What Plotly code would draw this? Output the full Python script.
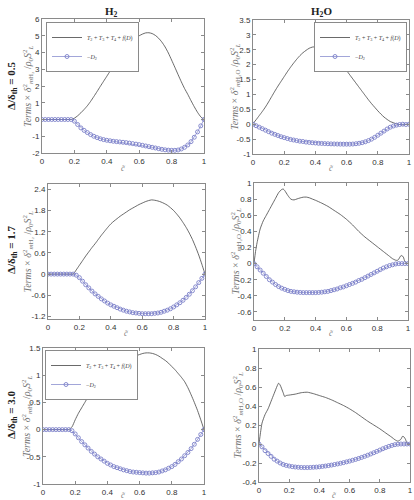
import plotly.graph_objects as go

# ---------------- data ----------------
c_markers = [0.00, 0.02, 0.04, 0.06, 0.08, 0.10, 0.12, 0.14, 0.16, 0.18,
             0.20, 0.22, 0.24, 0.26, 0.28, 0.30, 0.32, 0.34, 0.36, 0.38,
             0.40, 0.42, 0.44, 0.46, 0.48, 0.50, 0.52, 0.54, 0.56, 0.58,
             0.60, 0.62, 0.64, 0.66, 0.68, 0.70, 0.72, 0.74, 0.76, 0.78,
             0.80, 0.82, 0.84, 0.86, 0.88, 0.90, 0.92, 0.94, 0.96, 0.98, 1.00]

# H2, Delta/delta_th = 0.5
h2_05_terms = [0, 0, 0, 0, 0, 0, 0, 0, 0, 0,
               0.08, 0.22, 0.40, 0.60, 0.82, 1.08, 1.37, 1.67, 1.98, 2.28,
               2.58, 2.88, 3.17, 3.46, 3.74, 4.00, 4.25, 4.48, 4.68, 4.86,
               5.00, 5.10, 5.17, 5.18, 5.13, 5.02, 4.85, 4.62, 4.33, 3.97,
               3.55, 3.12, 2.68, 2.25, 1.85, 1.50, 1.12, 0.76, 0.43, 0.16, 0.0]
h2_05_d2 = [0, 0, 0, 0, 0, 0, 0, 0, 0, 0,
            -0.10, -0.30, -0.50, -0.65, -0.78, -0.90, -1.00, -1.08, -1.15, -1.20,
            -1.24, -1.27, -1.30, -1.32, -1.34, -1.36, -1.38, -1.41, -1.44, -1.47,
            -1.50, -1.54, -1.58, -1.62, -1.66, -1.70, -1.74, -1.78, -1.81, -1.83,
            -1.84, -1.84, -1.82, -1.76, -1.66, -1.52, -1.32, -1.06, -0.74, -0.38, 0.0]

# H2O, Delta/delta_th = 0.5
h2o_05_terms = [0.02, 0.15, 0.29, 0.43, 0.58, 0.75, 0.93, 1.11, 1.28, 1.44,
                1.60, 1.76, 1.91, 2.05, 2.18, 2.30, 2.40, 2.48, 2.55, 2.59,
                2.60, 2.59, 2.56, 2.51, 2.45, 2.38, 2.28, 2.18, 2.06, 1.93,
                1.80, 1.66, 1.52, 1.38, 1.24, 1.10, 0.96, 0.82, 0.69, 0.57,
                0.45, 0.34, 0.24, 0.16, 0.09, 0.05, 0.01, -0.01, -0.02, -0.01, 0.0]
h2o_05_d2 = [0.0, -0.05, -0.10, -0.15, -0.20, -0.25, -0.30, -0.34, -0.38, -0.42,
             -0.45, -0.48, -0.51, -0.53, -0.55, -0.57, -0.58, -0.60, -0.61, -0.62,
             -0.63, -0.64, -0.645, -0.65, -0.655, -0.66, -0.663, -0.666, -0.668, -0.67,
             -0.67, -0.67, -0.665, -0.655, -0.64, -0.62, -0.59, -0.55, -0.50, -0.44,
             -0.37, -0.30, -0.23, -0.16, -0.10, -0.06, -0.03, -0.01, 0.0, -0.01, 0.0]

# H2, Delta/delta_th = 1.7
h2_17_terms = [0, 0, 0, 0, 0, 0, 0, 0, 0, 0.12,
               0.25, 0.38, 0.51, 0.63, 0.75, 0.86, 0.98, 1.10, 1.21, 1.32,
               1.42, 1.50, 1.57, 1.64, 1.70, 1.76, 1.82, 1.87, 1.92, 1.97,
               2.01, 2.05, 2.08, 2.10, 2.09, 2.07, 2.04, 2.00, 1.95, 1.88,
               1.80, 1.70, 1.59, 1.46, 1.32, 1.16, 0.98, 0.77, 0.54, 0.28, 0.0]
h2_17_d2 = [0, 0, 0, 0, 0, 0, 0, 0, 0, -0.03,
            -0.10, -0.20, -0.30, -0.39, -0.48, -0.56, -0.63, -0.70, -0.76, -0.82,
            -0.87, -0.91, -0.95, -0.99, -1.02, -1.05, -1.07, -1.09, -1.10, -1.11,
            -1.12, -1.12, -1.12, -1.12, -1.11, -1.10, -1.08, -1.05, -1.02, -0.98,
            -0.93, -0.87, -0.81, -0.74, -0.66, -0.57, -0.47, -0.36, -0.24, -0.12, 0.0]

# H2O, Delta/delta_th = 1.7 (line drawn on its own finer set of points)
c_h2o_17_line = [0.00, 0.01, 0.02, 0.04, 0.06, 0.08, 0.10, 0.12, 0.14, 0.16,
                 0.18, 0.19, 0.20, 0.22, 0.24, 0.26, 0.28, 0.30, 0.32, 0.34,
                 0.36, 0.38, 0.40, 0.44, 0.48, 0.52, 0.56, 0.60, 0.64, 0.68,
                 0.72, 0.76, 0.80, 0.84, 0.88, 0.90, 0.92, 0.93, 0.94, 0.95,
                 0.96, 0.97, 0.98, 1.00]
h2o_17_terms = [0.0, 0.15, 0.26, 0.43, 0.53, 0.60, 0.67, 0.74, 0.81, 0.88,
                0.92, 0.925, 0.905, 0.845, 0.798, 0.79, 0.803, 0.815, 0.824, 0.825,
                0.816, 0.80, 0.785, 0.75, 0.71, 0.66, 0.61, 0.55, 0.48, 0.40,
                0.33, 0.27, 0.21, 0.15, 0.09, 0.06, 0.042, 0.04, 0.055, 0.09,
                0.10, 0.08, 0.025, 0.0]
h2o_17_d2 = [0.0, -0.04, -0.08, -0.12, -0.16, -0.20, -0.23, -0.26, -0.285, -0.305,
             -0.32, -0.335, -0.345, -0.35, -0.355, -0.358, -0.36, -0.36, -0.36, -0.36,
             -0.36, -0.358, -0.355, -0.35, -0.345, -0.335, -0.325, -0.315, -0.30, -0.29,
             -0.275, -0.26, -0.245, -0.23, -0.21, -0.195, -0.175, -0.155, -0.135, -0.115,
             -0.095, -0.075, -0.055, -0.04, -0.025, -0.015, -0.005, 0.0, 0.0, 0.0, 0.0]

# H2, Delta/delta_th = 3.0
h2_30_terms = [0, 0, 0, 0, 0, 0, 0, 0, 0, 0.05,
               0.18, 0.30, 0.40, 0.50, 0.60, 0.68, 0.76, 0.83, 0.90, 0.96,
               1.02, 1.07, 1.12, 1.16, 1.20, 1.24, 1.27, 1.30, 1.33, 1.36,
               1.38, 1.40, 1.41, 1.41, 1.40, 1.38, 1.35, 1.31, 1.27, 1.22,
               1.16, 1.10, 1.03, 0.96, 0.88, 0.77, 0.64, 0.50, 0.35, 0.18, 0.0]
h2_30_d2 = [0, 0, 0, 0, 0, 0, 0, 0, 0, -0.02,
            -0.08, -0.15, -0.22, -0.28, -0.34, -0.40, -0.45, -0.50, -0.54, -0.58,
            -0.62, -0.65, -0.68, -0.70, -0.72, -0.74, -0.755, -0.77, -0.78, -0.785,
            -0.79, -0.795, -0.80, -0.80, -0.795, -0.79, -0.78, -0.76, -0.74, -0.71,
            -0.68, -0.64, -0.59, -0.54, -0.48, -0.42, -0.35, -0.27, -0.18, -0.09, 0.0]

# H2O, Delta/delta_th = 3.0 (line drawn on its own finer set of points)
c_h2o_30_line = [0.00, 0.01, 0.02, 0.04, 0.06, 0.08, 0.10, 0.12, 0.13, 0.14,
                 0.16, 0.17, 0.18, 0.20, 0.24, 0.28, 0.32, 0.36, 0.40, 0.44,
                 0.48, 0.52, 0.56, 0.60, 0.64, 0.68, 0.72, 0.76, 0.80, 0.84,
                 0.88, 0.90, 0.92, 0.94, 0.95, 0.96, 0.97, 0.98, 1.00]
h2o_30_terms = [0.0, 0.12, 0.22, 0.31, 0.37, 0.45, 0.53, 0.61, 0.64, 0.62,
                0.54, 0.50, 0.51, 0.515, 0.525, 0.54, 0.545, 0.53, 0.51, 0.49,
                0.465, 0.435, 0.405, 0.37, 0.33, 0.285, 0.24, 0.20, 0.16, 0.115,
                0.07, 0.045, 0.03, 0.05, 0.08, 0.075, 0.05, 0.01, 0.0]
h2o_30_d2 = [0.0, -0.03, -0.07, -0.10, -0.13, -0.16, -0.18, -0.20, -0.215, -0.225,
             -0.232, -0.238, -0.242, -0.245, -0.247, -0.248, -0.248, -0.247, -0.245, -0.243,
             -0.24, -0.236, -0.232, -0.227, -0.222, -0.216, -0.21, -0.203, -0.196, -0.188,
             -0.18, -0.171, -0.162, -0.152, -0.141, -0.13, -0.118, -0.105, -0.092, -0.078,
             -0.064, -0.05, -0.037, -0.025, -0.015, -0.007, -0.002, 0.0, 0.0, 0.0, 0.0]

x_tickvals = [0, 0.2, 0.4, 0.6, 0.8, 1]
x_ticktext = ["0", "0.2", "0.4", "0.6", "0.8", "1"]

y_ticks_h2_05 = [-2, -1, 0, 1, 2, 3, 4, 5, 6]
y_ticks_h2o_05 = [-1, -0.5, 0, 0.5, 1, 1.5, 2, 2.5, 3, 3.5]
y_ticks_h2_17 = [-1.2, -0.6, 0, 0.6, 1.2, 1.8, 2.4]
y_ticks_h2o_17 = [-0.6, -0.4, -0.2, 0, 0.2, 0.4, 0.6, 0.8, 1]
y_ticks_h2_30 = [-1, -0.5, 0, 0.5, 1, 1.5]
y_ticks_h2o_30 = [-0.4, -0.2, 0, 0.2, 0.4, 0.6, 0.8, 1]

column_titles = ["H<sub>2</sub>", "H<sub>2</sub>O"]
row_titles = ["Δ/δ<sub>th</sub> = 0.5", "Δ/δ<sub>th</sub> = 1.7", "Δ/δ<sub>th</sub> = 3.0"]
legend_names = ["<i>T</i><sub>2</sub> + <i>T</i><sub>3</sub> + <i>T</i><sub>4</sub> + <i>f</i>(<i>D</i>)",
                "−<i>D</i><sub>2</sub>"]
ytitle_h2 = "<i>Terms</i> × <i>δ</i><sup>2</sup><sub><i>m</i>H₂</sub> /<i>ρ</i><sub>0</sub><i>S</i><sup>2</sup><sub><i>L</i></sub>"
ytitle_h2o = "<i>Terms</i> × <i>δ</i><sup>2</sup><sub><i>m</i>H₂O</sub> /<i>ρ</i><sub>0</sub><i>S</i><sup>2</sup><sub><i>L</i></sub>"

# ---------------- layout ----------------
W, H = 414, 500
LINE_COLOR = "#444444"
MARK_COLOR = "#7a7fc8"

panels = [
    dict(px=(42, 204), py=(19, 153), yr=(-2, 6), yt=y_ticks_h2_05,
         lx=c_markers, ly=h2_05_terms, my=h2_05_d2, yti=ytitle_h2, tx=28, leg="legend"),
    dict(px=(253, 409), py=(20, 154), yr=(-1, 3.5), yt=y_ticks_h2o_05,
         lx=c_markers, ly=h2o_05_terms, my=h2o_05_d2, yti=ytitle_h2o, tx=235, leg="legend2"),
    dict(px=(48, 205), py=(184, 319), yr=(-1.27, 2.55), yt=y_ticks_h2_17,
         lx=c_markers, ly=h2_17_terms, my=h2_17_d2, yti=ytitle_h2, tx=27, leg=None),
    dict(px=(254, 408), py=(183, 320), yr=(-0.7, 1.0), yt=y_ticks_h2o_17,
         lx=c_h2o_17_line, ly=h2o_17_terms, my=h2o_17_d2, yti=ytitle_h2o, tx=235, leg=None),
    dict(px=(43, 204), py=(348, 484), yr=(-1, 1.5), yt=y_ticks_h2_30,
         lx=c_markers, ly=h2_30_terms, my=h2_30_d2, yti=ytitle_h2, tx=27, leg="legend3"),
    dict(px=(259, 410), py=(349, 482), yr=(-0.4, 1.0), yt=y_ticks_h2o_30,
         lx=c_h2o_30_line, ly=h2o_30_terms, my=h2o_30_d2, yti=ytitle_h2o, tx=237, leg=None),
]
xtitle_y = [168, 168, 333, 333, 495, 495]

fig = go.Figure()
layout = dict(
    width=W, height=H, margin=dict(l=0, r=0, t=0, b=0, autoexpand=False),
    paper_bgcolor="white", plot_bgcolor="white",
    font=dict(family="Liberation Sans, Arial", size=8, color="#333"),
    showlegend=True,
)
annotations = []

for i, p in enumerate(panels):
    k = "" if i == 0 else str(i + 1)
    xa, ya = "xaxis" + k, "yaxis" + k
    xd = [p["px"][0] / W, p["px"][1] / W]
    yd = [1 - p["py"][1] / H, 1 - p["py"][0] / H]
    common = dict(showgrid=False, zeroline=False, showline=True, linecolor="#8a8a8a",
                  linewidth=1, mirror="ticks", ticks="inside", ticklen=3,
                  tickcolor="#8a8a8a", tickfont=dict(size=8, color="#333"))
    layout[xa] = dict(domain=xd, range=[0, 1], tickvals=x_tickvals, ticktext=x_ticktext,
                      anchor="y" + k, **common)
    layout[ya] = dict(domain=yd, range=list(p["yr"]), tickvals=p["yt"],
                      ticktext=["%g" % v for v in p["yt"]], anchor="x" + k, **common)
    leg = p["leg"]
    fig.add_trace(go.Scatter(
        x=p["lx"], y=p["ly"], mode="lines",
        line=dict(color=LINE_COLOR, width=0.8, shape="spline", smoothing=0.6),
        name=legend_names[0], xaxis="x" + k, yaxis="y" + k,
        showlegend=leg is not None, legend=leg if leg else "legend"))
    fig.add_trace(go.Scatter(
        x=c_markers, y=p["my"], mode="lines+markers",
        line=dict(color=MARK_COLOR, width=0.7),
        marker=dict(symbol="circle-open", size=4, color=MARK_COLOR, line=dict(width=0.9)),
        name=legend_names[1], xaxis="x" + k, yaxis="y" + k,
        showlegend=leg is not None, legend=leg if leg else "legend"))
    annotations.append(dict(text=p["yti"], x=p["tx"] / W, y=(yd[0] + yd[1]) / 2,
                            xref="paper", yref="paper", textangle=-90, showarrow=False,
                            xanchor="center", yanchor="middle",
                            font=dict(family="Liberation Serif", size=10, color="#777")))
    annotations.append(dict(text="<i>c̃</i>", x=(xd[0] + xd[1]) / 2, y=1 - xtitle_y[i] / H,
                            xref="paper", yref="paper", showarrow=False,
                            xanchor="center", yanchor="middle",
                            font=dict(family="Liberation Serif", size=8, color="#777")))

annotations.append(dict(text="<b>" + column_titles[0] + "</b>", x=111 / W, y=1 - 12 / H, xref="paper",
                        yref="paper", showarrow=False, xanchor="center", yanchor="middle",
                        font=dict(family="Liberation Serif", size=11, color="#222")))
annotations.append(dict(text="<b>" + column_titles[1] + "</b>", x=321 / W, y=1 - 12 / H, xref="paper",
                        yref="paper", showarrow=False, xanchor="center", yanchor="middle",
                        font=dict(family="Liberation Serif", size=11, color="#222")))
for t, yc in zip(row_titles, [86, 250, 415]):
    annotations.append(dict(text="<b>" + t + "</b>", x=12 / W, y=1 - yc / H, xref="paper",
                            yref="paper", showarrow=False, textangle=-90,
                            xanchor="center", yanchor="middle",
                            font=dict(family="Liberation Serif", size=11, color="#222")))

leg_common = dict(bgcolor="white", bordercolor="#8a8a8a", borderwidth=1,
                  font=dict(family="Liberation Serif", size=6, color="#444"),
                  itemwidth=30, tracegroupgap=0, yanchor="top")
layout["legend"] = dict(x=46 / W, y=1 - 22 / H, xanchor="left", **leg_common)
layout["legend2"] = dict(x=407 / W, y=1 - 22 / H, xanchor="right", **leg_common)
layout["legend3"] = dict(x=45 / W, y=1 - 350 / H, xanchor="left", **leg_common)
layout["annotations"] = annotations

fig.update_layout(**layout)
fig.write_html("out.html", config={"displayModeBar": False},
               post_script="document.body.style.margin='0';")
